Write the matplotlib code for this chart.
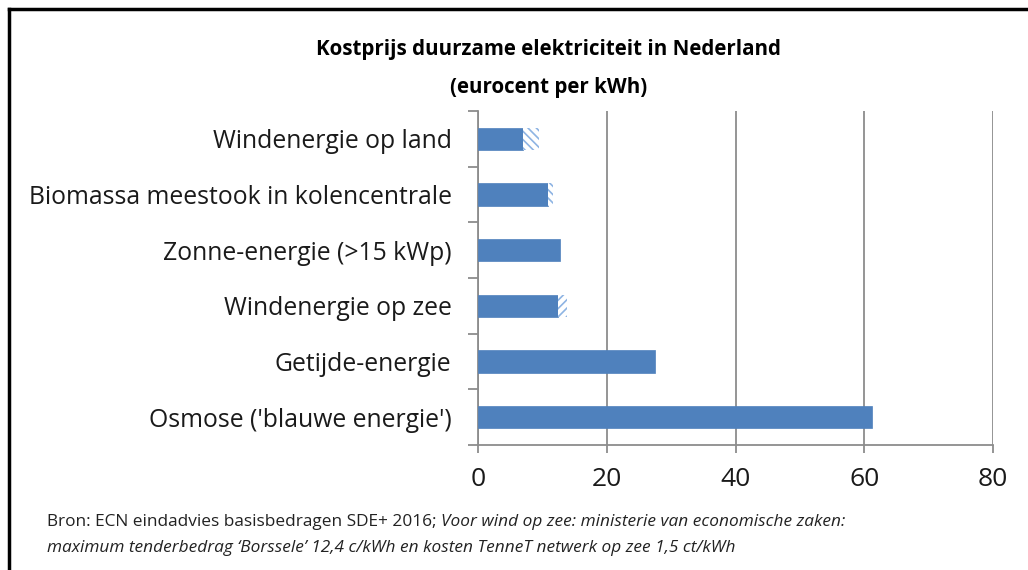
import matplotlib
matplotlib.use("Agg")
import matplotlib.pyplot as plt
from matplotlib.lines import Line2D
from matplotlib.text import Annotation

plt.rcParams['font.family'] = ['Open Sans', 'DejaVu Sans']
plt.rcParams['hatch.linewidth'] = 1.2

categories = ["Windenergie op land", "Biomassa meestook in kolencentrale",
              "Zonne-energie (>15 kWp)", "Windenergie op zee",
              "Getijde-energie", "Osmose ('blauwe energie')"]
base_cost = [7.0, 10.8, 12.8, 12.4, 27.5, 61.2]
extra_cost = [2.5, 0.8, 0.0, 1.5, 0.0, 0.0]
hatches = ['\\\\\\\\', '\\\\\\\\', '', '////', '', '']
x_ticks = [0, 20, 40, 60, 80]

blue = '#4F81BD'
hatch_blue = '#8EB4E3'
grid_gray = '#8C8C8C'
text_col = '#1a1a1a'

fig = plt.figure(figsize=(10.28, 5.70), dpi=100)
fig.patch.set_facecolor('white')
ax = fig.add_axes([478/1028, 1-445/570, (993-478)/1028, (445-111)/570])

plt.rcParams['hatch.color'] = hatch_blue
ypos = list(range(len(categories)))
ax.barh(ypos, base_cost, height=0.4, color=blue, edgecolor=blue, linewidth=0.5, zorder=3)
for y, b, e, h in zip(ypos, base_cost, extra_cost, hatches):
    if e > 0:
        ax.barh(y, e, left=b, height=0.4, color='white', edgecolor=hatch_blue,
                hatch=h, linewidth=0, zorder=3)

ax.set_xlim(0, 80)
ax.set_ylim(len(categories)-0.5, -0.5)
ax.set_xticks(x_ticks)
ax.set_xticklabels([str(t) for t in x_ticks], fontsize=19, color=text_col)
ax.set_yticks(ypos)
ax.set_yticklabels(categories, fontsize=17.8, color=text_col)
ax.tick_params(axis='y', length=0, pad=19)
ax.set_yticks([i - 0.5 for i in range(len(categories)+1)], minor=True)
ax.tick_params(axis='y', which='minor', length=7, width=1.3, color=grid_gray, direction='out')
ax.tick_params(axis='x', length=6, width=1.3, color=grid_gray, direction='out', pad=10)

ax.grid(axis='x', color=grid_gray, linewidth=1.3, zorder=0)
ax.set_axisbelow(True)
for s in ['top', 'right']:
    ax.spines[s].set_visible(False)
for s in ['left', 'bottom']:
    ax.spines[s].set_color(grid_gray)
    ax.spines[s].set_linewidth(1.3)

fig.text(549/1028, 1-50/570, "Kostprijs duurzame elektriciteit in Nederland",
         ha='center', va='center', fontsize=14.8, fontweight='bold', color='black')
fig.text(549/1028, 1-87/570, "(eurocent per kWh)",
         ha='center', va='center', fontsize=14.8, fontweight='bold', color='black')

fs = 12.4
t1 = fig.text(47/1028, 1-522/570, "Bron: ECN eindadvies basisbedragen SDE+ 2016; ",
              ha='left', va='center', fontsize=fs, color='#222222')
a = Annotation("Voor wind op zee: ministerie van economische zaken:",
               xy=(1, 0), xycoords=t1, va='bottom', ha='left',
               fontsize=fs, style='italic', color='#222222')
fig.add_artist(a)
fig.text(47/1028, 1-548/570,
         "maximum tenderbedrag \u2018Borssele\u2019 12,4 c/kWh en kosten TenneT netwerk op zee 1,5 ct/kWh",
         ha='left', va='center', fontsize=fs, style='italic', color='#222222')

# outer frame (top and left)
fig.add_artist(Line2D([9/1028, 9/1028], [0, 1-9/570], color='black', linewidth=2.5,
                      transform=fig.transFigure))
fig.add_artist(Line2D([9/1028, 1], [1-9/570, 1-9/570], color='black', linewidth=2.5,
                      transform=fig.transFigure))

fig.savefig('out.png', dpi=100, facecolor='white')
